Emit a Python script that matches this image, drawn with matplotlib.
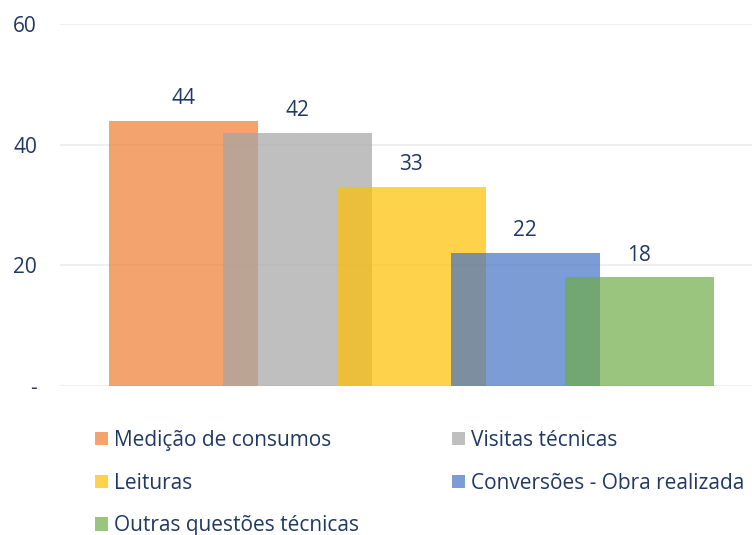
import matplotlib
matplotlib.use("Agg")
import matplotlib.pyplot as plt
from matplotlib.patches import Patch
import numpy as np

plt.rcParams["font.family"] = ["Open Sans", "DejaVu Sans"]

categorias = ["Medição de consumos", "Visitas técnicas", "Leituras",
              "Conversões - Obra realizada", "Outras questões técnicas"]
valores = [44, 42, 33, 22, 18]
cores = ["#ED7D31", "#A5A5A5", "#FFC000", "#4472C4", "#70AD47"]
yticks = [0, 20, 40, 60]
yticklabels = ["-", "20", "40", "60"]

TXT = "#1F3864"

fig = plt.figure(figsize=(7.52, 5.35), dpi=100)
ax = fig.add_axes([60 / 752, 1 - 386 / 535, 1 - 60 / 752, (386 - 24) / 535])

x = np.arange(len(valores))
largura = 149 / 114
for i, (v, c) in enumerate(zip(valores, cores)):
    ax.bar(x[i], v, largura, color=c, alpha=0.7, linewidth=0, zorder=2 + i)
    ax.text(x[i], v + 3.7, f"{v}", ha="center", va="center", color=TXT,
            fontsize=15)

ax.set_xlim(-(183.5 - 60) / 114, 4 + (752 - 639) / 114)
ax.set_ylim(0, 60)
ax.set_yticks(yticks)
ax.set_yticklabels(yticklabels)
ax.set_xticks([])
ax.tick_params(axis="y", length=0, pad=16.5, labelsize=15, labelcolor=TXT)
ax.grid(axis="y", color="#EFEFEF", linewidth=1.5, zorder=0)
ax.set_axisbelow(True)
for s in ax.spines.values():
    s.set_visible(False)

ordem = [0, 2, 4, 1, 3]
handles = [Patch(facecolor=cores[i], alpha=0.7, linewidth=0) for i in ordem]
labels = [categorias[i] for i in ordem]
fig.legend(handles, labels, ncol=2, loc="upper left",
           bbox_to_anchor=(76 / 752, 1 - 411 / 535), frameon=False,
           handlelength=0.62, handleheight=0.62, handletextpad=0.29,
           columnspacing=4.5, labelspacing=1.05, fontsize=15,
           labelcolor=TXT)

fig.savefig("out.png", dpi=100)
